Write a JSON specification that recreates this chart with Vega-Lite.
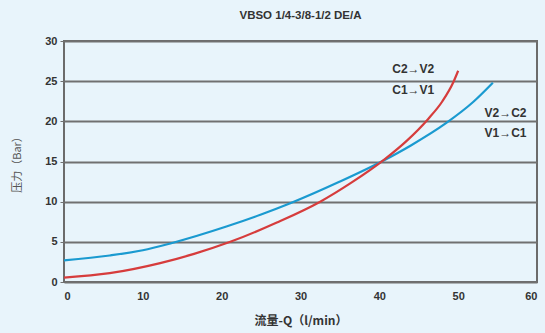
{
  "$schema": "https://vega.github.io/schema/vega-lite/v6.json",
  "width": 473,
  "height": 241,
  "autosize": {"type": "none"},
  "padding": {"left": 64, "top": 41, "right": 8, "bottom": 51},
  "background": "#e8f4fb",
  "config": {
    "view": {"stroke": "#6b6b6b", "strokeWidth": 2},
    "font": "Liberation Sans, Noto Sans CJK SC",
    "axis": {"labelFont": "Liberation Sans", "labelFontWeight": "bold", "labelColor": "#333", "labelFontSize": 11, "titleColor": "#333", "titleFontWeight": "normal"}
  },
  "title": {"text": "VBSO 1/4-3/8-1/2  DE/A", "fontSize": 11.5, "fontWeight": "bold", "color": "#333", "font": "Liberation Sans", "offset": 14},
  "datasets": {
    "curves": [
      {"q": 0, "p": 2.7, "s": "blue"},
      {"q": 5.8, "p": 3.3, "s": "blue"},
      {"q": 10, "p": 3.95, "s": "blue"},
      {"q": 13.5, "p": 4.8, "s": "blue"},
      {"q": 20.6, "p": 6.9, "s": "blue"},
      {"q": 25, "p": 8.4, "s": "blue"},
      {"q": 28.7, "p": 9.8, "s": "blue"},
      {"q": 35, "p": 12.5, "s": "blue"},
      {"q": 40.3, "p": 15.0, "s": "blue"},
      {"q": 44, "p": 17.0, "s": "blue"},
      {"q": 48.5, "p": 19.8, "s": "blue"},
      {"q": 51.9, "p": 22.4, "s": "blue"},
      {"q": 54.4, "p": 24.8, "s": "blue"},
      {"q": 0, "p": 0.55, "s": "red"},
      {"q": 5.8, "p": 1.1, "s": "red"},
      {"q": 12.2, "p": 2.35, "s": "red"},
      {"q": 16.5, "p": 3.5, "s": "red"},
      {"q": 21.1, "p": 5.0, "s": "red"},
      {"q": 27, "p": 7.4, "s": "red"},
      {"q": 32.5, "p": 10.0, "s": "red"},
      {"q": 36.5, "p": 12.4, "s": "red"},
      {"q": 40.7, "p": 15.3, "s": "red"},
      {"q": 43.5, "p": 17.6, "s": "red"},
      {"q": 46.2, "p": 20.3, "s": "red"},
      {"q": 48, "p": 22.5, "s": "red"},
      {"q": 49.4, "p": 24.9, "s": "red"},
      {"q": 50.0, "p": 26.3, "s": "red"}
    ],
    "labels": [
      {"q": 44.3, "p": 26.5, "t": "C2→V2"},
      {"q": 44.3, "p": 23.9, "t": "C1→V1"},
      {"q": 56.0, "p": 21.0, "t": "V2→C2"},
      {"q": 56.0, "p": 18.5, "t": "V1→C1"}
    ]
  },
  "layer": [
    {
      "data": {"name": "curves"},
      "mark": {"type": "line", "interpolate": "monotone", "strokeWidth": 2.2},
      "encoding": {
        "x": {"field": "q", "type": "quantitative", "scale": {"domain": [0, 60], "nice": false},
          "axis": {"values": [0, 10, 20, 30, 40, 50, 60], "grid": false, "ticks": false, "domain": false, "labelPadding": 8, "title": "流量-Q（l/min）", "titleFontSize": 12, "titlePadding": 14, "titleFont": "Noto Sans CJK SC", "titleFontWeight": "bold"}},
        "y": {"field": "p", "type": "quantitative", "scale": {"domain": [0, 30], "nice": false},
          "axis": {"values": [0, 5, 10, 15, 20, 25, 30], "grid": true, "gridColor": "#707070", "gridWidth": 2, "gridOpacity": 1, "ticks": true, "tickSize": 4, "tickColor": "#707070", "domain": false, "labelPadding": 3, "title": "压力（Bar）", "titleFontSize": 11, "titlePadding": 22, "titleFont": "Noto Sans CJK SC", "titleColor": "#555"}},
        "color": {"field": "s", "type": "nominal", "scale": {"domain": ["blue", "red"], "range": ["#1a9ad0", "#d63c3c"]}, "legend": null}
      }
    },
    {
      "data": {"name": "labels"},
      "mark": {"type": "text", "fontWeight": "bold", "fontSize": 12, "font": "Liberation Sans", "color": "#333"},
      "encoding": {
        "x": {"field": "q", "type": "quantitative"},
        "y": {"field": "p", "type": "quantitative"},
        "text": {"field": "t"}
      }
    }
  ]
}
